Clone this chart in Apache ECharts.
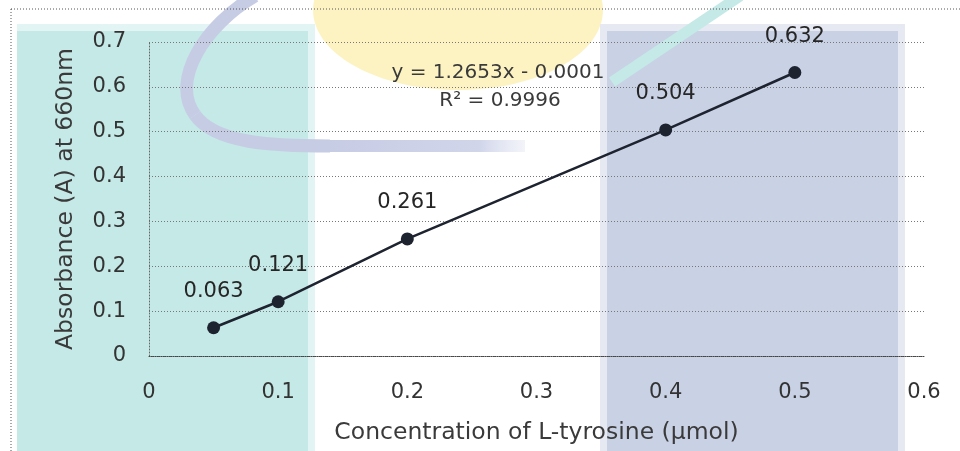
<!DOCTYPE html>
<html>
<head>
<meta charset="utf-8">
<script src="https://cdn.jsdelivr.net/npm/echarts@6/dist/echarts.min.js"></script>
<style>
html,body{margin:0;padding:0;background:#fff;}
#chart{width:960px;height:451px;}
</style>
</head>
<body>
<div id="chart"></div>
<script>
// ---- data ----
const concentration = [0.05, 0.1, 0.2, 0.4, 0.5];
const absorbance = [0.063, 0.121, 0.261, 0.504, 0.632];
const pointLabels = ['0.063', '0.121', '0.261', '0.504', '0.632'];
const xTicks = [0, 0.1, 0.2, 0.3, 0.4, 0.5, 0.6];
const yTicks = [0, 0.1, 0.2, 0.3, 0.4, 0.5, 0.6, 0.7];
const equationText = 'y = 1.2653x - 0.0001';
const r2Text = 'R² = 0.9996';
const xTitle = 'Concentration of L-tyrosine (µmol)';
const yTitle = 'Absorbance (A) at 660nm';

const FONT = 'DejaVu Sans';
const chart = echarts.init(document.getElementById('chart'), null, {renderer: 'canvas'});

const option = {
  backgroundColor: '#ffffff',
  animation: false,
  graphic: {
    elements: [
      // watermark background shapes
      {type: 'ellipse', z: -10, silent: true, shape: {cx: 458, cy: 10, rx: 145, ry: 80}, style: {fill: '#fdf3c2'}},
      {type: 'rect', z: -9, silent: true, shape: {x: 17, y: 24, width: 298, height: 440}, style: {fill: '#e2f4f3'}},
      {type: 'rect', z: -9, silent: true, shape: {x: 17, y: 31, width: 291, height: 440}, style: {fill: '#c5e9e7'}},
      {type: 'rect', z: -9, silent: true, shape: {x: 600, y: 24, width: 305, height: 440}, style: {fill: '#e6e9f2'}},
      {type: 'rect', z: -9, silent: true, shape: {x: 607, y: 31, width: 291, height: 440}, style: {fill: '#c9d1e4'}},
      {type: 'bezierCurve', z: -8, silent: true,
        shape: {x1: 255, y1: -4, cpx1: 205, cpy1: 25, cpx2: 170, cpy2: 80, x2: 195, y2: 115},
        style: {fill: 'none', stroke: '#c7cce5', lineWidth: 13}},
      {type: 'bezierCurve', z: -8, silent: true,
        shape: {x1: 195, y1: 115, cpx1: 215, cpy1: 143, cpx2: 270, cpy2: 146, x2: 330, y2: 146},
        style: {fill: 'none', stroke: '#c7cce5', lineWidth: 13}},
      {type: 'line', z: -8, silent: true, shape: {x1: 330, y1: 146, x2: 525, y2: 146},
        style: {stroke: {type: 'linear', x: 0, y: 0, x2: 1, y2: 0,
          colorStops: [{offset: 0, color: '#c7cce5'}, {offset: 0.75, color: '#d0d5ea'}, {offset: 1, color: 'rgba(225,228,242,0.3)'}]},
          lineWidth: 12}},
      {type: 'line', z: -8, silent: true, shape: {x1: 612, y1: 82, x2: 740, y2: -4},
        style: {stroke: '#c4e9e7', lineWidth: 11}},
      // outer dotted frame
      {type: 'rect', z: -5, silent: true, shape: {x: 11, y: 9, width: 980, height: 480},
        style: {fill: 'none', stroke: '#555', lineWidth: 1, lineDash: [1, 2]}},
      // trendline equation
      {type: 'text', z: 10, style: {text: equationText, x: 498, y: 73, align: 'center', verticalAlign: 'middle',
        font: '20px "' + FONT + '"', fill: '#3a3a3a'}},
      {type: 'text', z: 10, style: {text: r2Text, x: 500, y: 101, align: 'center', verticalAlign: 'middle',
        font: '20px "' + FONT + '"', fill: '#3a3a3a'}}
    ]
  },
  grid: {left: 149, right: 36, top: 42, bottom: 95, containLabel: false, outerBoundsMode: 'none'},
  xAxis: {
    type: 'value', min: xTicks[0], max: xTicks[xTicks.length - 1], interval: 0.1,
    name: xTitle, nameLocation: 'middle', nameGap: 65,
    nameTextStyle: {fontFamily: FONT, fontSize: 23.5, color: '#3a3a3a'},
    axisLine: {show: true, lineStyle: {color: '#444', type: [1, 1], width: 1}},
    axisTick: {show: false},
    splitLine: {show: false},
    axisLabel: {fontFamily: FONT, fontSize: 21, color: '#333', margin: 26}
  },
  yAxis: {
    type: 'value', min: yTicks[0], max: yTicks[yTicks.length - 1], interval: 0.1,
    name: yTitle, nameLocation: 'middle', nameGap: 71, nameRotate: 90,
    nameTextStyle: {fontFamily: FONT, fontSize: 23.5, color: '#3a3a3a'},
    axisLine: {show: true, lineStyle: {color: '#666', type: [1, 2], width: 1}},
    axisTick: {show: false},
    splitLine: {show: true, lineStyle: {color: '#777', type: [1, 2], width: 1}},
    axisLabel: {fontFamily: FONT, fontSize: 21, color: '#333', margin: 23}
  },
  series: [{
    type: 'line',
    data: concentration.map((x, i) => [x, absorbance[i]]),
    symbol: 'circle', symbolSize: 13,
    lineStyle: {color: '#1e2330', width: 2.5},
    itemStyle: {color: '#1e2330'},
    label: {
      show: true, position: 'top', distance: 19,
      formatter: p => pointLabels[p.dataIndex],
      fontFamily: FONT, fontSize: 21, color: '#262626'
    },
    z: 5
  }]
};
chart.setOption(option);
</script>
</body>
</html>
